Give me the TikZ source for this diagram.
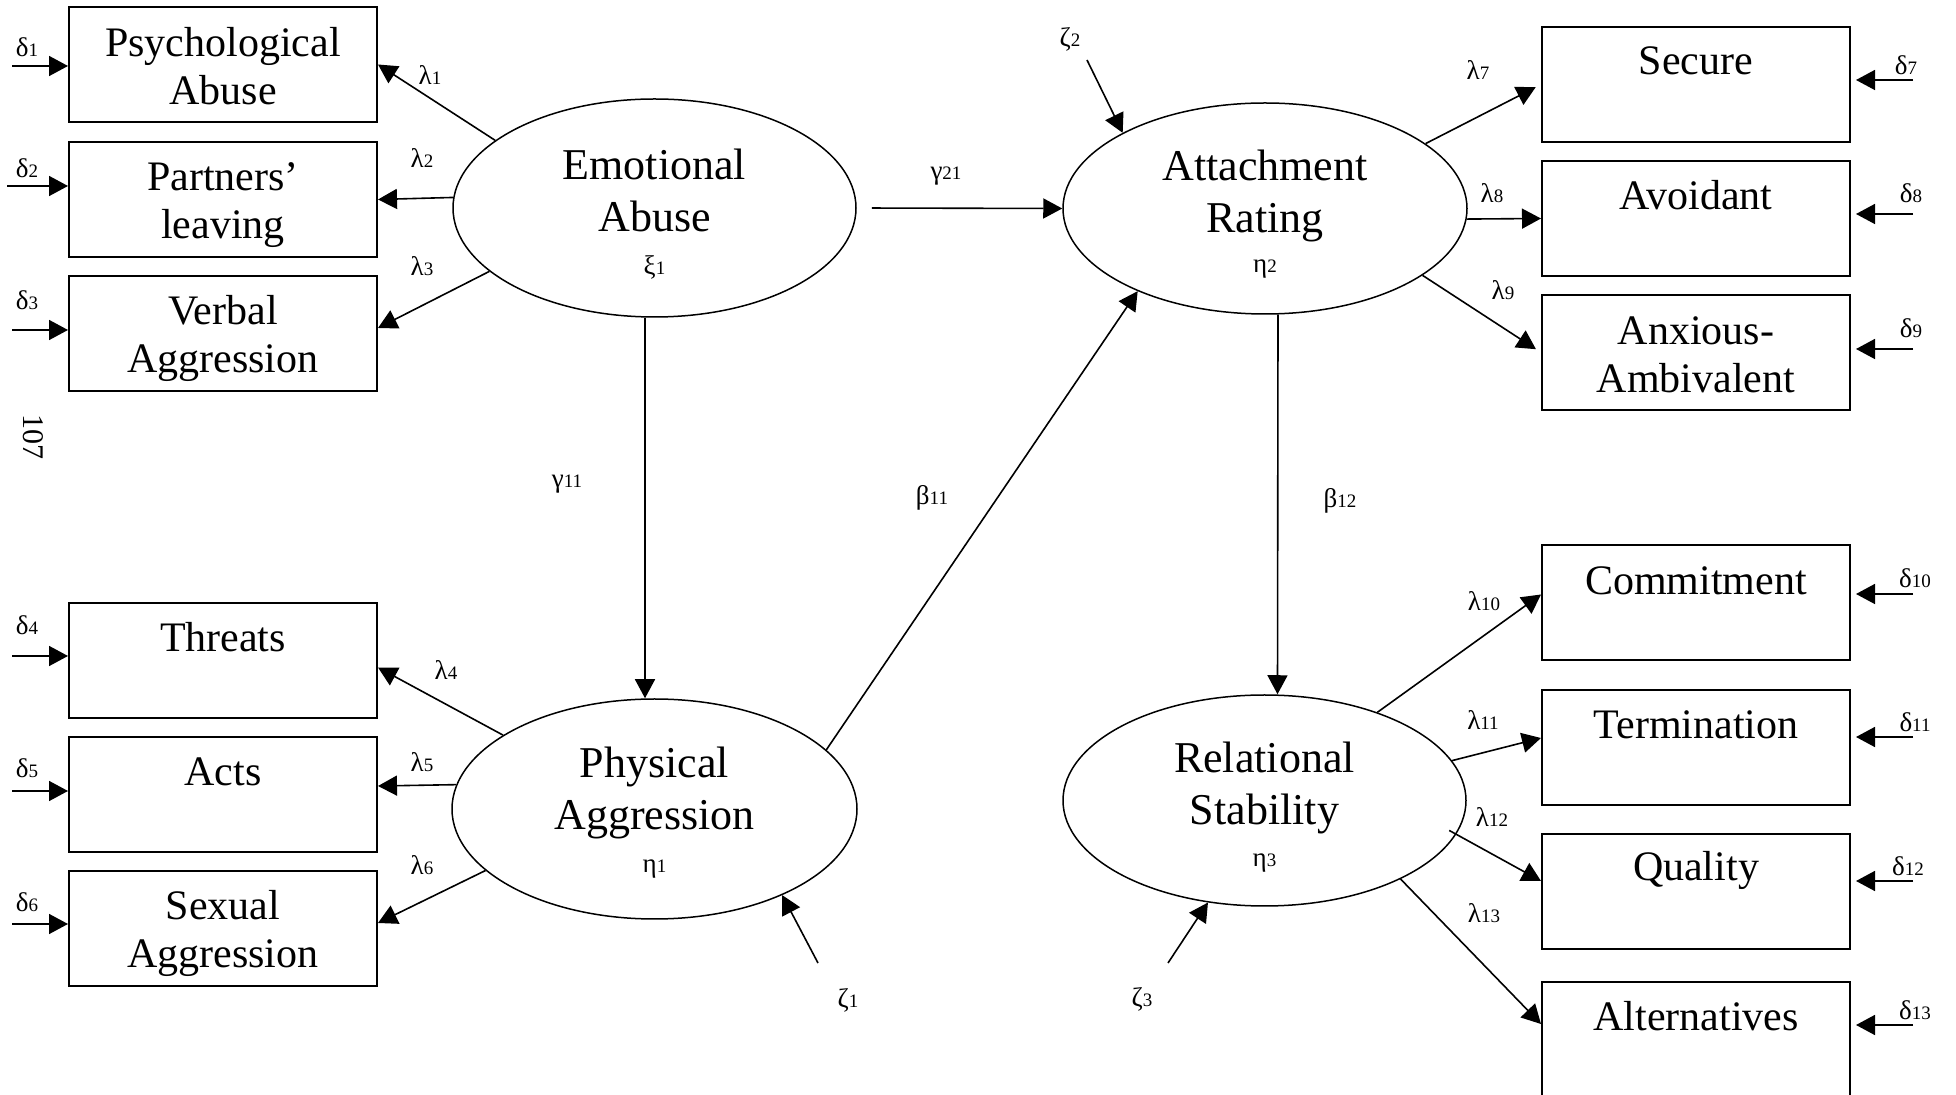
\documentclass[tikz,border=0pt]{standalone}
\usepackage{fontspec}
\setmainfont{Liberation Serif}
\usetikzlibrary{arrows.meta,shapes.geometric}
\newcommand\gsub[2]{{\fontsize{13.5}{13.5}\selectfont #1}{\fontsize{9.5}{9.5}\selectfont #2}}
\begin{document}
\begin{tikzpicture}[x=0.5pt,y=-0.5pt,
  obs/.style={draw, line width=1pt, rectangle, minimum width=154pt, minimum height=57.5pt, inner sep=0},
  lat/.style={draw, line width=0.75pt, ellipse, inner sep=0},
  btxt/.style={anchor=base, align=center, font=\fontsize{21}{24}\selectfont, inner sep=0},
  etxt/.style={anchor=base, align=center, font=\fontsize{22}{26}\selectfont, inner sep=0},
  glab/.style={anchor=base, inner sep=0},
  arr/.style={-{Triangle[length=9.5pt,width=10pt]}, line width=0.8pt},
]
\useasboundingbox (0,0) rectangle (1956,1095);

% observed boxes, left
\node[obs] (b1) at (223,64.5) {};
\node[obs] (b2) at (223,199.5) {};
\node[obs] (b3) at (223,333.5) {};
\node[obs] (b4) at (223,660.5) {};
\node[obs] (b5) at (223,794.5) {};
\node[obs] (b6) at (223,928.5) {};
% right
\node[obs] (b7) at (1696,84.5) {};
\node[obs] (b8) at (1696,218.5) {};
\node[obs] (b9) at (1696,352.5) {};
\node[obs] (b10) at (1696,602.5) {};
\node[obs] (b11) at (1696,747.5) {};
\node[obs] (b12) at (1696,891.5) {};
\node[obs] (b13) at (1696,1039.5) {};

% box texts (base = baseline of last line)
\node[btxt] (t1) at (223,105) {Psychological\\Abuse};
\node[btxt] (t2) at (223,239) {Partners’\\leaving};
\node[btxt] (t3) at (223,373) {Verbal\\Aggression};
\node[btxt] (t4) at (223,652) {Threats};
\node[btxt] (t5) at (223,786) {Acts};
\node[btxt] (t6) at (223,968) {Sexual\\Aggression};
\node[btxt] (t7) at (1696,75) {Secure};
\node[btxt] (t8) at (1696,210) {Avoidant};
\node[btxt] (t9) at (1696,393) {Anxious-\\Ambivalent};
\node[btxt] (t10) at (1696,595) {Commitment};
\node[btxt] (t11) at (1696,739) {Termination};
\node[btxt] (t12) at (1696,881) {Quality};
\node[btxt] (t13) at (1696,1031) {Alternatives};

% latent ellipses
\node[lat, minimum width=201.5pt, minimum height=109pt] (ea) at (654.5,208) {};
\node[lat, minimum width=202.5pt, minimum height=110pt] (pa) at (654.5,809) {};
\node[lat, minimum width=202pt, minimum height=105.5pt] (ar) at (1265,208.5) {};
\node[lat, minimum width=201.5pt, minimum height=105.5pt] (rs) at (1264.5,800.5) {};

\node[etxt] (tea) at (654.5,232) {Emotional\\Abuse};
\node[etxt] (tpa) at (654.5,830) {Physical\\Aggression};
\node[etxt] (tar) at (1265,233) {Attachment\\Rating};
\node[etxt] (trs) at (1264.5,825) {Relational\\Stability};
\node[glab] (xi1) at (654.5,275) {\gsub{ξ}{1}};
\node[glab] (eta1) at (654.5,873) {\gsub{η}{1}};
\node[glab] (eta2) at (1265,273) {\gsub{η}{2}};
\node[glab] (eta3) at (1264.5,867) {\gsub{η}{3}};

% delta inputs left
\coordinate (d1s) at (12,66);
\coordinate (d2s) at (7,186);
\coordinate (d3s) at (12,330);
\coordinate (d4s) at (12,656);
\coordinate (d5s) at (12,791);
\coordinate (d6s) at (12,924);
\draw[arr] (d1s) -- (b1.west |- d1s);
\draw[arr] (d2s) -- (b2.west |- d2s);
\draw[arr] (d3s) -- (b3.west |- d3s);
\draw[arr] (d4s) -- (b4.west |- d4s);
\draw[arr] (d5s) -- (b5.west |- d5s);
\draw[arr] (d6s) -- (b6.west |- d6s);
\node[glab] (ld1) at (27,57) {\gsub{δ}{1}};
\node[glab] (ld2) at (27,178) {\gsub{δ}{2}};
\node[glab] (ld3) at (27,310) {\gsub{δ}{3}};
\node[glab] (ld4) at (27,635) {\gsub{δ}{4}};
\node[glab] (ld5) at (27,778) {\gsub{δ}{5}};
\node[glab] (ld6) at (27,912) {\gsub{δ}{6}};

% delta inputs right
\coordinate (d7s) at (1913,80);
\coordinate (d8s) at (1913,214);
\coordinate (d9s) at (1913,349);
\coordinate (d10s) at (1913,594);
\coordinate (d11s) at (1913,737);
\coordinate (d12s) at (1913,881);
\coordinate (d13s) at (1913,1025);
\draw[arr, shorten >=2.5pt] (d7s) -- (b7.east |- d7s);
\draw[arr, shorten >=2.5pt] (d8s) -- (b8.east |- d8s);
\draw[arr, shorten >=2.5pt] (d9s) -- (b9.east |- d9s);
\draw[arr, shorten >=2.5pt] (d10s) -- (b10.east |- d10s);
\draw[arr, shorten >=2.5pt] (d11s) -- (b11.east |- d11s);
\draw[arr, shorten >=2.5pt] (d12s) -- (b12.east |- d12s);
\draw[arr, shorten >=2.5pt] (d13s) -- (b13.east |- d13s);
\node[glab] (ld7) at (1906,75) {\gsub{δ}{7}};
\node[glab] (ld8) at (1911,203) {\gsub{δ}{8}};
\node[glab] (ld9) at (1911,338) {\gsub{δ}{9}};
\node[glab] (ld10) at (1915,588) {\gsub{δ}{10}};
\node[glab] (ld11) at (1915,732) {\gsub{δ}{11}};
\node[glab] (ld12) at (1908,876) {\gsub{δ}{12}};
\node[glab] (ld13) at (1915,1020) {\gsub{δ}{13}};

% loadings
\draw[arr] (ea.157.6) -- (b1.east);
\draw[arr] (ea.177.4) -- (b2.east);
\draw[arr] (ea.201.9) -- ([yshift=2.75pt]b3.east);
\draw[arr] (pa.154.9) -- ([yshift=-3.5pt]b4.east);
\draw[arr] (pa.173.6) -- ([yshift=4.25pt]b5.east);
\draw[arr] (pa.200) -- ([yshift=2.75pt]b6.east);
\draw[arr, shorten >=3pt] (ar.22.95) -- (b7.west);
\draw[arr] (ar.-3) -- (b8.west);
\draw[arr, shorten >=3pt] (ar.337) -- (b9.west);
\draw[arr] (rs.38.2) -- ([yshift=4pt]b10.west);
\draw[arr] (rs.12.1) -- ([yshift=4.75pt]b11.west);
\draw[arr, shorten <=-4pt] (rs.-10.6) -- ([yshift=5.25pt]b12.west);
\draw[arr] (rs.-30.9) -- ([yshift=7.75pt]b13.west);

\node[glab] (l1) at (430,85) {\gsub{λ}{1}};
\node[glab] (l2) at (422,168) {\gsub{λ}{2}};
\node[glab] (l3) at (422,276) {\gsub{λ}{3}};
\node[glab] (l4) at (446,680) {\gsub{λ}{4}};
\node[glab] (l5) at (422,772) {\gsub{λ}{5}};
\node[glab] (l6) at (422,875) {\gsub{λ}{6}};
\node[glab] (l7) at (1478,80) {\gsub{λ}{7}};
\node[glab] (l8) at (1492,203) {\gsub{λ}{8}};
\node[glab] (l9) at (1503,300) {\gsub{λ}{9}};
\node[glab] (l10) at (1484,611) {\gsub{λ}{10}};
\node[glab] (l11) at (1483,730) {\gsub{λ}{11}};
\node[glab] (l12) at (1492,827) {\gsub{λ}{12}};
\node[glab] (l13) at (1484,923) {\gsub{λ}{13}};

% structural paths
\draw[arr, shorten <=7.5pt] (ea.east) -- (ar.west);
\draw[arr] ([xshift=-4.75pt]ea.south) -- ([xshift=-4.75pt]pa.north);
\draw[arr] (pa.19.8) -- (ar.213.6);
\draw[arr] ([xshift=6.5pt]ar.south) -- ([xshift=6.5pt]rs.north);
\node[glab] (g21) at (946,180) {\gsub{γ}{21}};
\node[glab] (g11) at (567,488) {\gsub{γ}{11}};
\node[glab] (b11l) at (932,505) {\gsub{β}{11}};
\node[glab] (b12l) at (1340,508) {\gsub{β}{12}};

% disturbances
\coordinate (z1s) at (818,963);
\coordinate (z2s) at (1087,60);
\coordinate (z3s) at (1168,963);
\draw[arr] (z1s) -- (pa.326);
\draw[arr] (z2s) -- (ar.152);
\draw[arr] (z3s) -- (rs.241);
\node[glab] (lz1) at (848,1008) {\gsub{ζ}{1}};
\node[glab] (lz2) at (1070,47) {\gsub{ζ}{2}};
\node[glab] (lz3) at (1142,1007) {\gsub{ζ}{3}};

% page number
\node[rotate=-90, font=\fontsize{15}{15}\selectfont, inner sep=0] (pg) at (33,437) {107};
\end{tikzpicture}
\end{document}
